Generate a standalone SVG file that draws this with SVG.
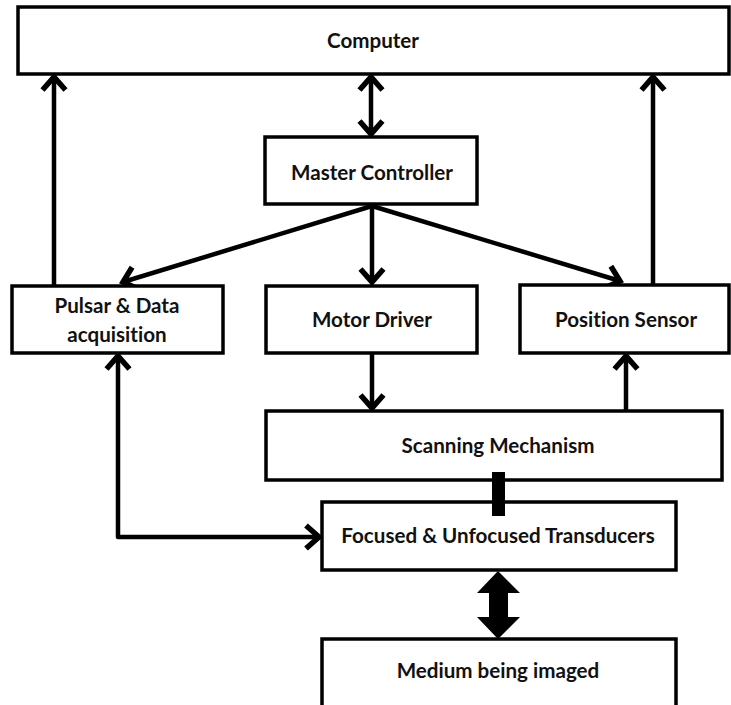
<svg xmlns="http://www.w3.org/2000/svg" width="731" height="705" viewBox="0 0 731 705">
<style>
.box{fill:#fff;stroke:#000;stroke-width:3.5}
.lbl{font-family:Lato,"Open Sans","Liberation Sans",sans-serif;font-weight:bold;font-size:20.6px;fill:#111;text-anchor:middle;font-variant-ligatures:none;font-feature-settings:"liga" 0,"dlig" 0}
.con{fill:none;stroke:#000;stroke-width:4.5}
</style>
<defs>
<marker id="ah" markerUnits="userSpaceOnUse" markerWidth="26" markerHeight="30" viewBox="0 0 26 30" refX="20" refY="15" orient="auto-start-reverse">
<path d="M7,3.5 L20,15 L7,26.5" fill="none" stroke="#000" stroke-width="5.5"/>
</marker>
</defs>
<rect width="731" height="705" fill="#fff"/>
<g id="connectors">
<line class="con" x1="54" y1="286" x2="54" y2="77" marker-end="url(#ah)"/>
<line class="con" x1="653" y1="285" x2="653" y2="77" marker-end="url(#ah)"/>
<line class="con" x1="371" y1="77" x2="371" y2="134" marker-start="url(#ah)" marker-end="url(#ah)"/>
<line class="con" x1="372" y1="206" x2="123" y2="282" marker-end="url(#ah)"/>
<line class="con" x1="372" y1="206" x2="372" y2="282" marker-end="url(#ah)"/>
<line class="con" x1="372" y1="206" x2="620" y2="281" marker-end="url(#ah)"/>
<line class="con" x1="372" y1="354" x2="372" y2="408" marker-end="url(#ah)"/>
<line class="con" x1="626" y1="411" x2="626" y2="356" marker-end="url(#ah)"/>
<path class="con" d="M118,356 L118,537 L319,537" stroke-linejoin="round" marker-start="url(#ah)" marker-end="url(#ah)"/>
</g>
<g id="computer">
<rect class="box" x="18" y="7" width="711" height="67"/>
<text class="lbl" x="373" y="48">Computer</text>
</g>
<g id="master-controller">
<rect class="box" x="265" y="137" width="212" height="67"/>
<text class="lbl" x="372" y="180">Master Controller</text>
</g>
<g id="pulsar">
<rect class="box" x="12" y="286" width="211" height="67"/>
<text class="lbl" x="117" y="313">Pulsar &amp; Data</text>
<text class="lbl" x="117" y="342">acquisition</text>
</g>
<g id="motor-driver">
<rect class="box" x="266" y="286" width="211" height="67"/>
<text class="lbl" x="372" y="327">Motor Driver</text>
</g>
<g id="position-sensor">
<rect class="box" x="520" y="285" width="209" height="68"/>
<text class="lbl" x="626" y="327">Position Sensor</text>
</g>
<g id="scanning">
<rect class="box" x="266" y="411" width="456" height="69"/>
<text class="lbl" x="498" y="453">Scanning Mechanism</text>
</g>
<g id="transducers">
<rect class="box" x="322" y="502" width="354" height="68"/>
<text class="lbl" x="498" y="543">Focused &amp; Unfocused Transducers</text>
</g>
<g id="medium">
<path class="box" d="M322,712 L322,639 L676,639 L676,712"/>
<text class="lbl" x="498" y="678">Medium being imaged</text>
</g>
<g id="links">
<rect x="492" y="472" width="13" height="44" fill="#000"/>
<polygon points="498,571 520,593 508,593 508,617 520,617 498,639 477,617 489,617 489,593 477,593" fill="#000"/>
</g>
</svg>
